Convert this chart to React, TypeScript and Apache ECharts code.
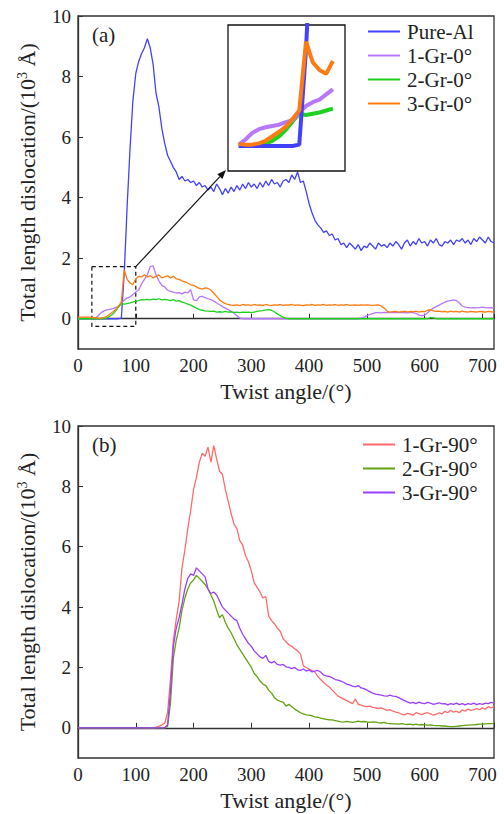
import React, { useEffect, useRef } from "react";
import * as echarts from "echarts";

// Twist angle sampling (degrees)
const angles: number[] = Array.from({ length: 145 }, (_, i) => i * 5);

// (a) series, values in 10^3 Å, one value per 5°
const pureAl: number[] = [
  0, 0, 0, 0, 0, 0, 0, 0, 0, 0,
  0, 0, 0, 0, 0, 0.02, 1.5, 3.7, 5.6, 7.2,
  8.1, 8.5, 8.75, 8.95, 9.25, 8.95, 8.4, 7.45, 7.0, 6.3,
  5.8, 5.4, 5.2, 5.0, 4.85, 4.6, 4.7, 4.55, 4.6, 4.5,
  4.55, 4.4, 4.5, 4.35, 4.4, 4.25, 4.35, 4.2, 4.45, 4.3,
  4.1, 4.3, 4.15, 4.35, 4.2, 4.4, 4.25, 4.45, 4.3, 4.5,
  4.35, 4.45, 4.3, 4.5, 4.35, 4.55, 4.4, 4.6, 4.45, 4.5,
  4.35, 4.55, 4.6, 4.5, 4.75, 4.6, 4.85, 4.5, 4.55, 4.2,
  3.8, 3.5, 3.25, 3.1, 3.0, 2.85, 2.9, 2.75, 2.8, 2.6,
  2.65, 2.45, 2.5, 2.35, 2.5, 2.4, 2.3, 2.45, 2.25, 2.4,
  2.35, 2.5, 2.4, 2.3, 2.5, 2.4, 2.45, 2.35, 2.5, 2.4,
  2.55, 2.45, 2.3, 2.5, 2.6, 2.4, 2.55, 2.45, 2.65, 2.5,
  2.55, 2.4, 2.6, 2.5, 2.65, 2.45, 2.4, 2.55, 2.5, 2.6,
  2.45, 2.6, 2.55, 2.65, 2.5, 2.6, 2.45, 2.65, 2.55, 2.7,
  2.6, 2.5, 2.7, 2.55, 2.5,
];
const gr1_0: number[] = [
  0, 0, 0, 0, 0, 0, 0.02, 0.1, 0.2, 0.26,
  0.29, 0.31, 0.33, 0.37, 0.4, 0.52, 0.62, 0.68, 0.72, 0.8,
  0.88, 0.95, 1.15, 1.3, 1.45, 1.72, 1.75, 1.45, 1.25, 1.1,
  1.05, 0.95, 0.9, 0.88, 0.85, 0.86, 0.82, 0.88, 0.85, 0.96,
  0.62, 0.6, 0.72, 0.74, 0.7, 0.66, 0.63, 0.58, 0.52, 0.46,
  0.4, 0.35, 0.3, 0.25, 0.18, 0.1, 0.02, 0, 0, 0,
  0, 0, 0, 0, 0, 0, 0, 0, 0, 0,
  0, 0, 0, 0, 0, 0, 0, 0, 0, 0,
  0, 0, 0, 0, 0, 0, 0, 0, 0, 0,
  0, 0, 0, 0, 0, 0, 0, 0, 0.02, 0.05,
  0.1, 0.14, 0.17, 0.2, 0.2, 0.19, 0.21, 0.2, 0.2, 0.21,
  0.2, 0.2, 0.21, 0.2, 0.19, 0.2, 0.2, 0.18, 0.12, 0.1,
  0.12, 0.2, 0.28, 0.35, 0.4, 0.45, 0.5, 0.55, 0.58, 0.6,
  0.62, 0.6, 0.52, 0.42, 0.38, 0.37, 0.36, 0.37, 0.36, 0.37,
  0.38, 0.37, 0.36, 0.37, 0.36,
];
const gr2_0: number[] = [
  0, 0, 0, 0, 0, 0, 0, 0, 0, 0,
  0.03, 0.08, 0.15, 0.25, 0.38, 0.5, 0.48, 0.5, 0.52, 0.55,
  0.58, 0.6, 0.63, 0.62, 0.64, 0.62, 0.65, 0.63, 0.66, 0.62,
  0.64, 0.62, 0.6, 0.63, 0.58, 0.6, 0.55, 0.52, 0.48, 0.45,
  0.4, 0.35, 0.3, 0.28, 0.26, 0.25, 0.24, 0.25, 0.22, 0.23,
  0.22, 0.24, 0.22, 0.23, 0.21, 0.22, 0.2, 0.22, 0.21, 0.22,
  0.2, 0.22, 0.24, 0.26, 0.27, 0.29, 0.3, 0.28, 0.22, 0.16,
  0.1, 0.05, 0.01, 0, 0, 0, 0, 0, 0, 0,
  0, 0, 0, 0, 0, 0, 0, 0, 0, 0,
  0, 0, 0, 0, 0, 0, 0, 0, 0, 0,
  0, 0, 0, 0, 0, 0, 0, 0, 0, 0,
  0, 0, 0, 0, 0, 0, 0, 0, 0, 0,
  0, 0, 0.04, 0.03, 0, 0, 0, 0, 0, 0,
  0, 0, 0, 0, 0, 0, 0, 0, 0, 0,
  0, 0, 0, 0, 0,
];
const gr3_0: number[] = [
  0.05, 0.05, 0.05, 0.05, 0.05, 0.04, 0.03, 0.02, 0.02, 0.04,
  0.08, 0.15, 0.22, 0.3, 0.42, 0.55, 1.62, 1.3, 1.18, 1.12,
  1.32, 1.4, 1.38, 1.45, 1.38, 1.42, 1.35, 1.4, 1.45, 1.35,
  1.38, 1.42, 1.35, 1.4, 1.32, 1.3, 1.25, 1.22, 1.18, 1.12,
  1.1, 1.05, 1.0, 0.98, 1.02, 1.0, 0.95, 0.85, 0.74, 0.62,
  0.55, 0.5, 0.47, 0.45, 0.44, 0.46, 0.43, 0.47, 0.45, 0.46,
  0.44, 0.47, 0.45, 0.46, 0.43, 0.47, 0.45, 0.44, 0.46, 0.45,
  0.47, 0.44, 0.46, 0.45, 0.47, 0.44, 0.46, 0.45, 0.43, 0.46,
  0.45, 0.47, 0.44, 0.46, 0.45, 0.47, 0.44, 0.46, 0.45, 0.47,
  0.44, 0.46, 0.45, 0.47, 0.44, 0.45, 0.46, 0.44, 0.46, 0.45,
  0.46, 0.45, 0.44, 0.45, 0.46, 0.42, 0.35, 0.25, 0.22, 0.23,
  0.24, 0.22, 0.23, 0.25, 0.22, 0.24, 0.23, 0.25, 0.22, 0.24,
  0.23, 0.28, 0.3, 0.26, 0.24, 0.25, 0.23, 0.24, 0.22, 0.25,
  0.23, 0.24, 0.22, 0.25, 0.23, 0.22, 0.24, 0.23, 0.22, 0.24,
  0.23, 0.22, 0.24, 0.23, 0.22,
];

// (b) series
const gr1_90: number[] = [
  0, 0, 0, 0, 0, 0, 0, 0, 0, 0,
  0, 0, 0, 0, 0, 0, 0, 0, 0, 0,
  0, 0, 0, 0, 0, 0, 0, 0.02, 0.05, 0.1,
  0.15, 0.5, 1.6, 2.9, 3.6, 4.2, 5.3, 5.9, 6.6, 7.2,
  7.9, 8.3, 8.8, 9.1, 9.0, 9.3, 8.8, 9.35, 8.9, 8.5,
  8.4, 7.9, 7.5, 7.1, 6.75, 6.6, 6.2, 6.05, 5.7, 5.5,
  5.2, 4.8, 4.65, 4.5, 4.3, 4.35, 3.7, 3.55, 3.45, 3.3,
  3.2, 2.95, 2.85, 2.75, 2.7, 2.62, 2.55, 2.45, 2.05, 2.0,
  1.95, 1.9, 1.85, 1.7, 1.6, 1.5, 1.42, 1.35, 1.25, 1.15,
  1.05, 1.0, 0.95, 0.9, 0.85, 0.8, 0.95, 0.78, 0.75, 0.72,
  0.7, 0.72, 0.68, 0.66, 0.64, 0.66, 0.62, 0.58, 0.6, 0.55,
  0.52, 0.5, 0.45, 0.43, 0.48, 0.45, 0.42, 0.5, 0.47, 0.44,
  0.48, 0.5, 0.46, 0.42, 0.45, 0.5, 0.46, 0.55, 0.5, 0.58,
  0.52, 0.55, 0.5, 0.6, 0.55, 0.62, 0.58, 0.6, 0.64, 0.6,
  0.66, 0.62, 0.7, 0.66, 0.7,
];
const gr2_90: number[] = [
  0, 0, 0, 0, 0, 0, 0, 0, 0, 0,
  0, 0, 0, 0, 0, 0, 0, 0, 0, 0,
  0, 0, 0, 0, 0, 0, 0, 0, 0, 0,
  0, 0.05, 0.8, 2.3, 2.9, 3.3, 3.9, 4.3, 4.6, 4.8,
  4.9, 5.05, 4.95, 4.85, 4.75, 4.6, 4.4, 4.2, 3.9, 3.65,
  3.75, 3.5, 3.3, 3.15, 2.95, 2.75, 2.6, 2.45, 2.3, 2.15,
  2.0, 1.8, 1.7, 1.55, 1.45, 1.4, 1.25, 1.15, 1.0, 0.92,
  0.88, 0.85, 0.72, 0.78, 0.7, 0.62, 0.56, 0.5, 0.46, 0.43,
  0.42, 0.4, 0.36, 0.35, 0.32, 0.3, 0.28, 0.26, 0.26, 0.24,
  0.22, 0.2, 0.19, 0.21, 0.2, 0.18, 0.2, 0.22, 0.2, 0.21,
  0.2, 0.18, 0.2, 0.19, 0.17, 0.16, 0.18, 0.15, 0.14, 0.13,
  0.13, 0.12, 0.14, 0.12, 0.11, 0.12, 0.1, 0.12, 0.1, 0.11,
  0.1, 0.09, 0.1, 0.08, 0.07, 0.07, 0.06, 0.06, 0.05, 0.04,
  0.04, 0.05, 0.06, 0.07, 0.08, 0.09, 0.1, 0.1, 0.11, 0.12,
  0.12, 0.13, 0.14, 0.14, 0.15,
];
const gr3_90: number[] = [
  0, 0, 0, 0, 0, 0, 0, 0, 0, 0,
  0, 0, 0, 0, 0, 0, 0, 0, 0, 0,
  0, 0, 0, 0, 0, 0, 0, 0, 0, 0,
  0, 0.1, 1.2, 2.7, 3.3, 3.65, 4.1, 4.6, 4.95, 5.1,
  5.05, 5.3, 5.2, 5.1, 5.0, 4.6, 4.45, 4.5, 4.4, 4.2,
  4.0, 3.9, 3.8, 3.7, 3.6, 3.55, 3.3, 3.1, 2.95, 2.8,
  2.7, 2.55, 2.45, 2.35, 2.3, 2.4, 2.2, 2.15, 2.2, 2.1,
  2.08, 2.1, 2.02, 2.0, 1.96, 2.0, 1.92, 1.9, 1.95, 1.88,
  1.92, 1.85, 1.88, 1.9, 1.85, 1.75, 1.72, 1.7, 1.66, 1.6,
  1.58, 1.55, 1.5, 1.45, 1.42, 1.38, 1.36, 1.4, 1.32, 1.3,
  1.25, 1.2, 1.15, 1.12, 1.1, 1.08, 1.06, 1.05, 1.08, 1.05,
  1.04, 1.0, 0.95, 0.9, 0.86, 0.82, 0.84, 0.8, 0.85, 0.82,
  0.8, 0.84, 0.82, 0.78, 0.8, 0.83, 0.79, 0.8, 0.76, 0.8,
  0.78, 0.82, 0.77, 0.8, 0.76, 0.8, 0.78, 0.82, 0.77, 0.8,
  0.78, 0.82, 0.8, 0.84, 0.82,
];

const xTicks: number[] = [0, 100, 200, 300, 400, 500, 600, 700];
const yTicks: number[] = [0, 2, 4, 6, 8, 10];
const namesA: string[] = ["Pure-Al", "1-Gr-0°", "2-Gr-0°", "3-Gr-0°"];
const namesB: string[] = ["1-Gr-90°", "2-Gr-90°", "3-Gr-90°"];
const colorsA: string[] = ["#4141ff", "#b778ff", "#1fd11f", "#ff7a10"];
const colorsB: string[] = ["#ff6b6b", "#62a30f", "#9b3fff"];
// zoomed region shown in the inset: [xmin, xmax, ymin, ymax]
const zoomBox: number[] = [24, 100, -0.25, 1.72];
const insetRange: number[] = [22, 109, -0.39, 1.88];

const FONT = "Liberation Serif";
const AXC = "#333";

const pairs = (ys: number[]) => angles.map((a, i) => [a, ys[i]]);

function mainX(gridIndex: number) {
  return {
    type: "value",
    gridIndex,
    min: 0,
    max: 720,
    interval: 100,
    name: "Twist angle/(°)",
    nameLocation: "middle",
    nameGap: 31,
    nameTextStyle: { fontFamily: FONT, fontSize: 22, color: "#222" },
    axisLine: { show: true, lineStyle: { color: AXC, width: 1.3 } },
    axisTick: { show: true, inside: true, length: 5, lineStyle: { color: AXC } },
    axisLabel: { fontFamily: FONT, fontSize: 19, color: "#222", margin: 7, customValues: xTicks },
    splitLine: { show: false },
  };
}
function mainY(gridIndex: number) {
  return {
    type: "value",
    gridIndex,
    min: -1,
    max: 10,
    name: "Total length dislocation/(10{sup|3} Å)",
    nameLocation: "middle",
    nameGap: 39,
    nameTextStyle: {
      fontFamily: FONT,
      fontSize: 22,
      color: "#222",
      rich: { sup: { fontFamily: FONT, fontSize: 14, verticalAlign: "top", padding: [0, 0, 10, 0], color: "#222" } },
    },
    axisLine: { show: true, lineStyle: { color: AXC, width: 1.3 } },
    axisTick: { show: true, inside: true, length: 5, lineStyle: { color: AXC }, customValues: yTicks },
    axisLabel: { fontFamily: FONT, fontSize: 19, color: "#222", margin: 7, customValues: yTicks },
    splitLine: { show: false },
  };
}

export default function App() {
  const ref = useRef<HTMLDivElement>(null);
  useEffect(() => {
    if (!ref.current) return;
    const chart = echarts.init(ref.current, null, { renderer: "svg" });
    const seriesA = [pureAl, gr1_0, gr2_0, gr3_0];
    const seriesB = [gr1_90, gr2_90, gr3_90];
    const series: any[] = [];
    seriesA.forEach((d, i) => {
      const s: any = {
        type: "line",
        name: namesA[i],
        xAxisIndex: 0,
        yAxisIndex: 0,
        data: pairs(d),
        symbol: "none",
        color: colorsA[i],
        lineStyle: { width: 1.3, color: colorsA[i] },
        z: 3 + i,
      };
      if (i === 3) {
        s.markArea = {
          silent: true,
          itemStyle: { color: "rgba(0,0,0,0)", borderColor: "#111", borderWidth: 1.2, borderType: [4, 3] },
          data: [[{ xAxis: zoomBox[0], yAxis: zoomBox[3] }, { xAxis: zoomBox[1], yAxis: zoomBox[2] }]],
        };
      }
      series.push(s);
    });
    // inset copies (draw order: green, purple, blue, orange)
    [2, 1, 0, 3].forEach((i) => {
      series.push({
        type: "line",
        name: "inset " + namesA[i],
        xAxisIndex: 2,
        yAxisIndex: 2,
        data: pairs(seriesA[i]).filter((p) => p[0] >= 30 && p[0] <= 100),
        symbol: "none",
        color: colorsA[i],
        lineStyle: { width: 4, color: colorsA[i] },
        clip: true,
        z: 10,
      });
    });
    seriesB.forEach((d, i) => {
      series.push({
        type: "line",
        name: namesB[i],
        xAxisIndex: 1,
        yAxisIndex: 1,
        data: pairs(d),
        symbol: "none",
        color: colorsB[i],
        lineStyle: { width: 1.3, color: colorsB[i] },
        z: 3 + i,
      });
    });

    const legendBase = {
      orient: "vertical",
      icon: "rect",
      padding: 0,
      itemWidth: 32,
      itemHeight: 2,
      itemGap: 3,
      textStyle: { fontFamily: FONT, fontSize: 21, color: "#222", padding: [0, 0, 0, 2] },
      selectedMode: false,
    };

    const insetGrid = { left: 228, top: 25, width: 117, height: 146 };

    chart.setOption({
      animation: false,
      backgroundColor: "#fff",
      textStyle: { fontFamily: FONT },
      grid: [
        { left: 78, top: 16, width: 416, height: 333, show: true, borderColor: AXC, borderWidth: 1.3, backgroundColor: "transparent" },
        { left: 78, top: 426, width: 416, height: 332, show: true, borderColor: AXC, borderWidth: 1.3, backgroundColor: "transparent" },
        { ...insetGrid, show: true, borderColor: "#111", borderWidth: 1.3, backgroundColor: "#fff", z: 8 },
      ],
      xAxis: [
        mainX(0),
        mainX(1),
        { type: "value", gridIndex: 2, min: insetRange[0], max: insetRange[1], show: false },
      ],
      yAxis: [
        mainY(0),
        mainY(1),
        { type: "value", gridIndex: 2, min: insetRange[2], max: insetRange[3], show: false },
      ],
      legend: [
        { ...legendBase, left: 368, top: 21, data: namesA },
        { ...legendBase, left: 363, top: 434, data: namesB },
      ],
      series,
    });

    // arrow from the zoom box corner to the inset's lower-left corner
    const p1 = chart.convertToPixel({ gridIndex: 0 }, [zoomBox[1], zoomBox[3]]) as number[];
    const p2 = [insetGrid.left - 2, insetGrid.top + insetGrid.height - 1];
    const ang = Math.atan2(p2[1] - p1[1], p2[0] - p1[0]);
    const L = 9, W = 3.5;
    const bx = p2[0] - L * Math.cos(ang), by = p2[1] - L * Math.sin(ang);
    const nx = -Math.sin(ang), ny = Math.cos(ang);
    chart.setOption({
      graphic: [
        { type: "line", shape: { x1: p1[0], y1: p1[1], x2: bx, y2: by }, style: { stroke: "#111", lineWidth: 1.2 }, z: 20 },
        {
          type: "polygon",
          shape: { points: [[p2[0], p2[1]], [bx + nx * W, by + ny * W], [bx - nx * W, by - ny * W]] },
          style: { fill: "#111" },
          z: 20,
        },
        { type: "text", left: 92, top: 24, style: { text: "(a)", font: `21px '${FONT}'`, fill: "#222" }, z: 20 },
        { type: "text", left: 92, top: 434, style: { text: "(b)", font: `21px '${FONT}'`, fill: "#222" }, z: 20 },
      ],
    });

    return () => chart.dispose();
  }, []);
  return <div ref={ref} style={{ position: "fixed", left: 0, top: 0, width: 504, height: 814 }} />;
}
